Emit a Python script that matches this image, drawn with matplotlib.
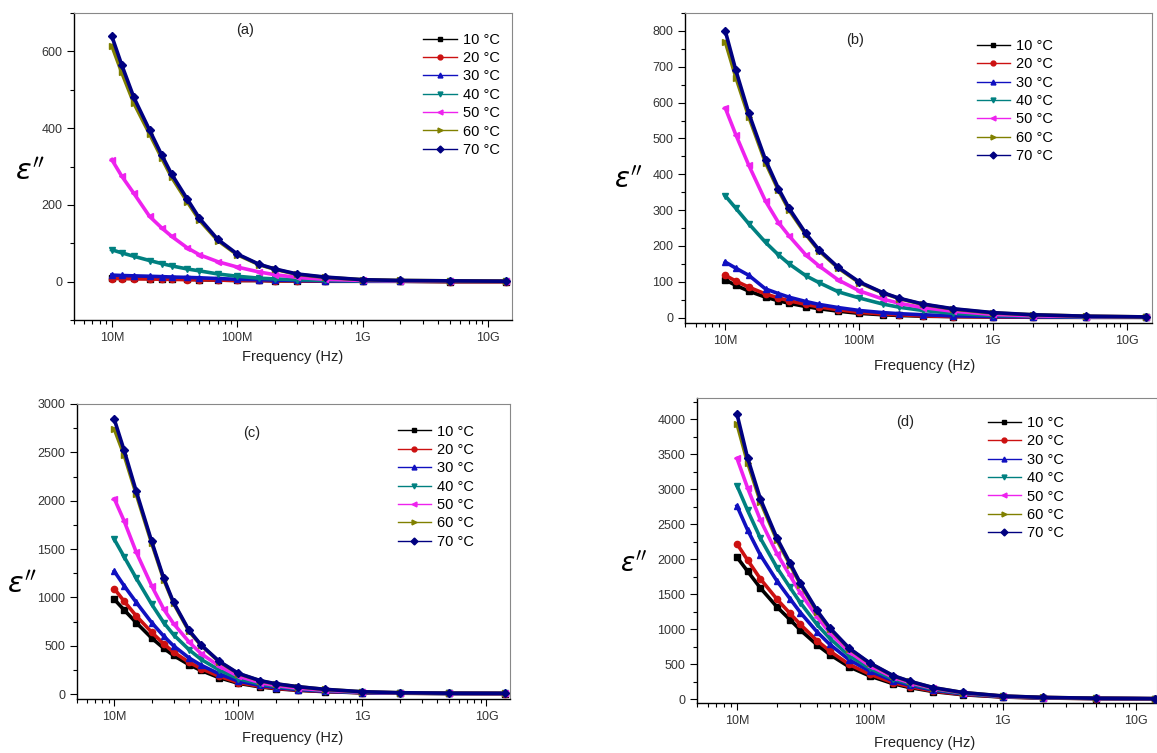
import matplotlib
matplotlib.use('agg')
import matplotlib.pyplot as plt
from matplotlib.ticker import FixedLocator, LogLocator, MultipleLocator, NullFormatter
from matplotlib.lines import Line2D

W, H = 1157, 753

freq = [1e7, 1.2e7, 1.5e7, 2e7, 2.5e7, 3e7, 4e7, 5e7, 7e7, 1e8,
        1.5e8, 2e8, 3e8, 5e8, 1e9, 2e9, 5e9, 1.4e10]

temps = ['10 °C', '20 °C', '30 °C', '40 °C', '50 °C', '60 °C', '70 °C']
colors = ['#000000', '#cc1111', '#1010c0', '#008080', '#ee22ee', '#808000', '#000080']
markers = ['s', 'o', '^', 'v', '<', '>', 'D']

# rows: 10, 20, ... 70 degC
eps_a = [
    [10, 9, 9, 8, 7, 7, 6, 5, 4, 3, 3, 2, 2, 1, 1, 1, 0, 0],
    [8, 8, 7, 7, 6, 6, 5, 5, 4, 3, 3, 2, 2, 1, 1, 1, 0, 0],
    [17, 16, 15, 14, 13, 12, 11, 10, 8, 6, 5, 4, 3, 2, 1, 1, 1, 1],
    [83, 75, 66, 55, 47, 41, 33, 28, 20, 14, 9, 7, 5, 3, 2, 1, 1, 1],
    [318, 275, 230, 170, 140, 118, 88, 70, 52, 38, 25, 18, 11, 6, 3, 2, 1, 1],
    [615, 545, 465, 385, 322, 272, 208, 160, 107, 70, 44, 32, 19, 11, 5, 3, 2, 1],
    [640, 565, 480, 395, 330, 280, 215, 165, 110, 72, 45, 33, 20, 12, 5, 3, 2, 1],
]

eps_b = [
    [105, 90, 74, 57, 47, 40, 31, 25, 18, 12, 8, 6, 4, 3, 2, 1, 1, 1],
    [118, 102, 85, 66, 55, 47, 37, 30, 22, 15, 10, 8, 5, 3, 2, 1, 1, 1],
    [155, 138, 118, 80, 67, 57, 45, 37, 28, 20, 14, 11, 8, 5, 3, 2, 1, 1],
    [340, 305, 262, 210, 175, 150, 117, 98, 72, 55, 38, 29, 20, 12, 6, 4, 2, 1],
    [585, 510, 425, 325, 265, 228, 175, 145, 105, 75, 52, 40, 28, 18, 9, 5, 3, 2],
    [770, 670, 560, 432, 355, 300, 232, 187, 138, 98, 69, 53, 37, 24, 13, 8, 4, 2],
    [800, 690, 570, 440, 360, 305, 235, 190, 140, 100, 70, 54, 38, 25, 14, 8, 4, 2],
]

eps_c = [
    [980, 870, 740, 580, 475, 400, 305, 245, 170, 112, 75, 57, 40, 26, 14, 10, 7, 6],
    [1090, 960, 810, 640, 520, 435, 330, 265, 185, 120, 80, 60, 43, 28, 15, 10, 8, 6],
    [1270, 1120, 950, 740, 600, 500, 375, 300, 210, 135, 90, 68, 48, 30, 16, 11, 8, 7],
    [1600, 1420, 1200, 930, 740, 615, 460, 360, 250, 160, 105, 80, 56, 36, 18, 12, 8, 7],
    [2020, 1790, 1470, 1120, 880, 730, 540, 420, 290, 185, 120, 90, 62, 40, 20, 13, 9, 7],
    [2740, 2470, 2070, 1560, 1185, 940, 650, 505, 335, 212, 138, 106, 77, 49, 24, 15, 10, 8],
    [2840, 2520, 2100, 1580, 1200, 950, 660, 510, 340, 215, 140, 108, 78, 50, 25, 15, 10, 8],
]

eps_d = [
    [2030, 1830, 1590, 1320, 1140, 990, 780, 640, 465, 335, 224, 170, 113, 68, 35, 21, 13, 9],
    [2220, 1990, 1720, 1430, 1230, 1070, 840, 690, 500, 360, 240, 183, 121, 73, 37, 22, 14, 10],
    [2760, 2420, 2060, 1690, 1440, 1240, 965, 785, 565, 405, 267, 203, 134, 80, 40, 24, 15, 10],
    [3050, 2700, 2300, 1880, 1600, 1380, 1070, 870, 625, 445, 292, 222, 146, 87, 43, 26, 16, 11],
    [3440, 3020, 2560, 2080, 1770, 1520, 1180, 950, 680, 480, 315, 240, 158, 94, 46, 28, 17, 11],
    [3930, 3380, 2820, 2270, 1925, 1640, 1255, 1010, 722, 515, 336, 257, 168, 99, 49, 30, 18, 12],
    [4070, 3450, 2860, 2300, 1950, 1660, 1270, 1020, 730, 520, 340, 260, 170, 100, 50, 30, 18, 12],
]

plt.rcParams['font.family'] = ['Liberation Sans', 'DejaVu Sans']

fig = plt.figure(figsize=(W / 100, H / 100), dpi=100)


def panel(box, data, ylim, major, minor, tag, tag_xy, leg_xy, xmax=1.55e10):
    l, t, r, b = box
    ax = fig.add_axes([l / W, 1 - b / H, (r - l) / W, (b - t) / H])
    for vals, c, m in zip(data, colors, markers):
        ax.plot(freq, vals, color=c, lw=2.6, marker=m, ms=4.5, mec=c, mfc=c, zorder=3)
    ax.set_xscale('log')
    ax.set_xlim(5e6, xmax)
    ax.set_ylim(*ylim)
    ax.xaxis.set_major_locator(FixedLocator([1e7, 1e8, 1e9, 1e10]))
    ax.set_xticklabels(['10M', '100M', '1G', '10G'])
    ax.xaxis.set_minor_locator(LogLocator(base=10, subs=range(2, 10)))
    ax.xaxis.set_minor_formatter(NullFormatter())
    ax.yaxis.set_major_locator(MultipleLocator(major))
    ax.yaxis.set_minor_locator(MultipleLocator(minor))
    ax.tick_params(which='both', direction='out', labelsize=9, labelcolor='#333333', width=0.8)
    ax.tick_params(which='major', length=5)
    ax.tick_params(which='minor', length=3)
    for s in ['top', 'right']:
        ax.spines[s].set_color('#888888')
        ax.spines[s].set_linewidth(0.8)
    for s in ['left', 'bottom']:
        ax.spines[s].set_linewidth(1.0)
    handles = [Line2D([], [], color=c, marker=m, lw=1, ms=3.5) for c, m in zip(colors, markers)]
    ax.legend(handles, temps, loc='upper right', bbox_to_anchor=leg_xy, frameon=False,
              fontsize=10.5, handlelength=2.3, labelspacing=0.3, handletextpad=0.4,
              borderaxespad=0)
    fig.text(tag_xy[0] / W, 1 - tag_xy[1] / H, tag, fontsize=10.5, ha='center', va='center',
             color='#222222')
    return ax


panel((74, 13, 512, 320), eps_a, (-100, 700), 200, 100, '(a)', (245, 30), (0.985, 0.955))
panel((685, 13, 1152, 323), eps_b, (-15, 850), 100, 50, '(b)', (855, 40), (0.80, 0.935))
panel((77, 404, 510, 699), eps_c, (-50, 3000), 500, 250, '(c)', (252, 433), (0.93, 0.95))
panel((697, 398, 1157, 703), eps_d, (-50, 4300), 500, 250, '(d)', (905, 422), (0.81, 0.96),
      xmax=1.45e10)

for x, y, fs in [(30, 172, 21), (628, 180, 20), (22, 585, 21), (634, 563, 19)]:
    fig.text(x / W, 1 - y / H, r"$\varepsilon''$", fontsize=fs, ha='center', va='center')

for x, y in [(293, 357), (925, 366), (293, 738), (925, 743)]:
    fig.text(x / W, 1 - y / H, 'Frequency (Hz)', fontsize=10.5, ha='center', va='center',
             color='#222222')

fig.savefig('out.png', dpi=100)
